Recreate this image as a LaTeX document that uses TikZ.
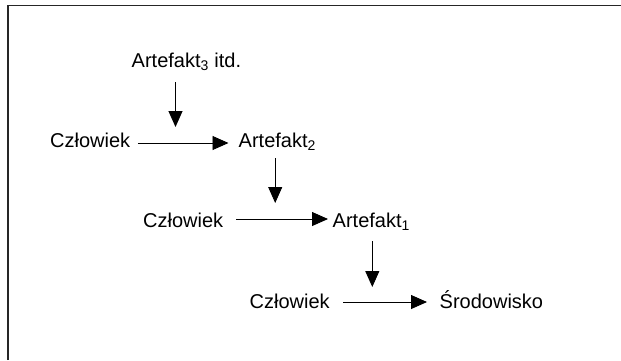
\documentclass[tikz,border=0pt]{standalone}
\usepackage{fontspec}
\setmainfont{Liberation Sans}
\usetikzlibrary{arrows.meta,calc}
\begin{document}
\begin{tikzpicture}[x=1pt,y=-1pt,
  label/.style={anchor=base west,inner sep=0pt,font=\fontsize{20}{24}\selectfont},
  conn/.style={line width=0.9pt,-{Triangle[length=16pt,width=14pt]}},
  frame/.style={line width=1.4pt,black!85}]
\useasboundingbox (0,0) rectangle (621,360);
% open frame: top and left edges only
\draw[frame] (8,360) -- (8,5.5) -- (621,5.5);

% texts
\node[label] (a3) at (131.5,67.5) {Artefakt\textsubscript{3} itd.};
\node[label] (c1) at (50,147.5) {Człowiek};
\node[label] (a2) at (238.5,147.5) {Artefakt\textsubscript{2}};
\node[label] (c2) at (143,227) {Człowiek};
\node[label] (a1) at (332.5,227) {Artefakt\textsubscript{1}};
\node[label] (c3) at (249.5,308) {Człowiek};
\node[label] (s)  at (439.5,308) {Środowisko};

% horizontal arrows: person -> artefact / environment
\draw[conn] ($(c1.base east)+(7.5,-4.5)$) -- ($(a2.base west)+(-10,-4.5)$);
\draw[conn] ($(c2.base east)+(13,-8)$) -- ($(a1.base west)+(-4.5,-8)$);
\draw[conn] ($(c3.base east)+(13.5,-6)$) -- ($(s.base west)+(-12.5,-6)$);

% vertical arrows: artefact feeds the next step down
\draw[conn] ($(a3.base west)+(44,14.5)$) -- ($(c1.base west)+(125.5,-20.5)$);
\draw[conn] ($(a2.base west)+(36.7,10.5)$) -- ($(c2.base west)+(132.2,-24)$);
\draw[conn] ($(a1.base west)+(39.8,14)$) -- ($(c3.base west)+(122.8,-21)$);
\end{tikzpicture}
\end{document}
